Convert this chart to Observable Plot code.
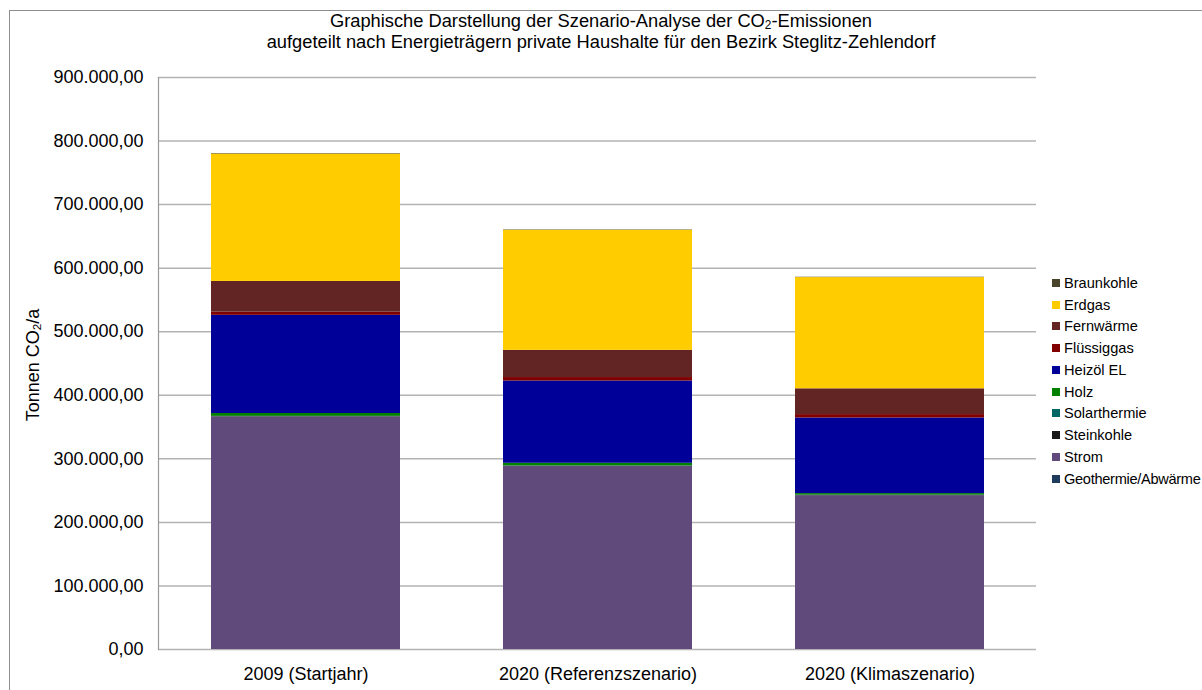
<!DOCTYPE html>
<html>
<head>
<meta charset="utf-8">
<script src="https://cdn.jsdelivr.net/npm/d3@7"></script>
<script src="https://cdn.jsdelivr.net/npm/@observablehq/plot@0.6"></script>
<style>
  html, body { margin: 0; padding: 0; background: #fff; }
  #wrap { position: relative; width: 1202px; height: 690px; overflow: hidden; font-family: "Liberation Sans", Arial, sans-serif; color: #000; }
  #border { position: absolute; left: 9px; top: 10px; width: 1400px; height: 900px; border: 1px solid #8f8f8f; box-sizing: border-box; }
  #title { position: absolute; left: 0; width: 1202px; top: 10px; text-align: center; font-size: 18.3px; line-height: 21px; }
  #ylabel { position: absolute; left: 33px; top: 365px; transform: translate(-50%, -50%) rotate(-90deg); white-space: nowrap; font-size: 18px; }
  #legend { position: absolute; left: 1052px; top: 272px; font-size: 14.6px; white-space: nowrap; }
  .item { height: 21.75px; display: flex; align-items: center; }
  .item.long { letter-spacing: -0.3px; }
  .sw { width: 8px; height: 8px; margin-right: 4px; flex: none; }
  sub { font-size: 65%; line-height: 0; vertical-align: -0.2em; }
  #chart { position: absolute; left: 0; top: 0; }
</style>
</head>
<body>
<div id="wrap">
  <div id="border"></div>
  <div id="chart"></div>
  <div id="title">Graphische Darstellung der Szenario-Analyse der CO<sub>2</sub>-Emissionen<br>aufgeteilt nach Energieträgern private Haushalte für den Bezirk Steglitz-Zehlendorf</div>
  <div id="ylabel">Tonnen CO<sub>2</sub>/a</div>
  <div id="legend"></div>
</div>
<script>
const categories = ["2009 (Startjahr)", "2020 (Referenzszenario)", "2020 (Klimaszenario)"];

// stacking order, bottom to top
const seriesNames = ["Geothermie/Abwärme", "Strom", "Steinkohle", "Solarthermie", "Holz", "Heizöl EL", "Flüssiggas", "Fernwärme", "Erdgas", "Braunkohle"];
const seriesColors = ["#1F3B5C", "#604A7B", "#1A1A1A", "#006666", "#008000", "#000099", "#800000", "#632523", "#FFCC00", "#4A452A"];

const geothermie   = [0, 0, 0];
const strom        = [366000, 288000, 242000];
const steinkohle   = [500, 400, 300];
const solarthermie = [300, 400, 500];
const holz         = [4500, 4200, 2500];
const heizoel      = [154500, 129500, 119000];
const fluessiggas  = [5000, 5400, 5300];
const fernwaerme   = [48300, 42800, 40600];
const erdgas       = [200500, 189000, 175000];
const braunkohle   = [800, 600, 500];

const seriesValues = [geothermie, strom, steinkohle, solarthermie, holz, heizoel, fluessiggas, fernwaerme, erdgas, braunkohle];

const yTicks = [0, 100000, 200000, 300000, 400000, 500000, 600000, 700000, 800000, 900000];

const rows = seriesNames.flatMap((s, i) => categories.map((c, j) => ({category: c, series: s, value: seriesValues[i][j]})));

const de = d3.formatLocale({decimal: ",", thousands: ".", grouping: [3], currency: ["", " €"]});
const fmt = de.format(",.2f");

const chart = Plot.plot({
  width: 1202,
  height: 690,
  marginLeft: 158,
  marginRight: 166,
  marginTop: 77,
  marginBottom: 41,
  style: {fontFamily: "'Liberation Sans', Arial, sans-serif", fontSize: "18px", color: "#000", background: "transparent"},
  x: {domain: categories, paddingInner: 0.354, paddingOuter: 0.177, label: null},
  y: {domain: [0, 900000], label: null},
  color: {domain: seriesNames, range: seriesColors},
  marks: [
    Plot.gridY(yTicks, {stroke: "#b3b3b3", strokeOpacity: 1, strokeWidth: 1.5}),
    Plot.barY(rows, {x: "category", y: "value", fill: "series"}),
    Plot.frame({anchor: "left", stroke: "#999", strokeWidth: 1.2}),
    Plot.axisY(yTicks, {tickFormat: fmt, tickSize: 0, tickPadding: 15, fontSize: 18}),
    Plot.axisX({tickSize: 0, tickPadding: 18, fontSize: 18})
  ]
});
document.getElementById("chart").appendChild(chart);

const legend = document.getElementById("legend");
seriesNames.slice().reverse().forEach(name => {
  const i = seriesNames.indexOf(name);
  const item = document.createElement("div");
  item.className = name.length > 14 ? "item long" : "item";
  const sw = document.createElement("span");
  sw.className = "sw";
  sw.style.background = seriesColors[i];
  const t = document.createElement("span");
  t.textContent = name;
  item.appendChild(sw);
  item.appendChild(t);
  legend.appendChild(item);
});
</script>
</body>
</html>
